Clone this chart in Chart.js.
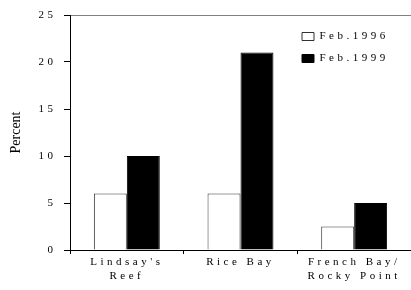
<!DOCTYPE html>
<html>
<head>
<meta charset="utf-8">
<script src="https://cdn.jsdelivr.net/npm/chart.js@4"></script>
<style>
  html, body { margin: 0; padding: 0; background: #fff; overflow: hidden; }
  canvas { display: block; }
</style>
</head>
<body>
<canvas id="chart" width="411" height="290"></canvas>
<script>
// Data
const categories = [["Lindsay's", "Reef"], ["Rice Bay"], ["French Bay/", "Rocky Point"]];
const seriesNames = ["Feb.1996", "Feb.1999"];
const feb1996 = [6, 6, 2.5];
const feb1999 = [10, 21, 5];
const yMin = 0;
const yMax = 25;
const yStep = 5;

const serif = "'Liberation Serif', 'DejaVu Serif', serif";
Chart.defaults.color = "#000";
Chart.defaults.font.family = serif;

// spaced-out lettering like the original, but not on the axis title
const spacingPlugin = {
    id: "spacing",
    afterLayout(chart) {
        const y = chart.scales.y;
        if (y && !y._plainTitle) {
            const orig = y.drawTitle;
            y.drawTitle = function () {
                const ctx = this.ctx;
                const prev = ctx.letterSpacing;
                ctx.letterSpacing = "0px";
                orig.call(this);
                ctx.letterSpacing = prev;
            };
            y._plainTitle = true;
        }
        // put the legend inside the plot, top right
        const lg = chart.legend;
        if (lg) {
            lg.left = 291;
            lg.top = 20;
            lg.right = lg.left + 120;
            lg.bottom = lg.top + 200;
        }
    },
    beforeDraw(chart) {
        chart.ctx.letterSpacing = "3.5px";
    }
};

new Chart(document.getElementById("chart"), {
    type: "bar",
    data: {
        labels: categories,
        datasets: [
            {
                label: seriesNames[0],
                data: feb1996,
                backgroundColor: "#fff",
                borderColor: "#333",
                borderWidth: 1
            },
            {
                label: seriesNames[1],
                data: feb1999,
                backgroundColor: "#000",
                borderColor: "#000",
                borderWidth: 1
            }
        ]
    },
    options: {
        responsive: false,
        animation: false,
        categoryPercentage: 0.58,
        barPercentage: 1,
        layout: { padding: { top: 15, left: 0, right: 0, bottom: 0 } },
        plugins: {
            legend: {
                position: "chartArea",
                align: "start",
                labels: {
                    boxWidth: 12,
                    boxHeight: 8,
                    padding: 11,
                    font: { family: serif, size: 11 },
                    color: "#000"
                }
            },
            tooltip: { enabled: false }
        },
        scales: {
            x: {
                afterFit(scale) { scale.height = 40; },
                grid: {
                    display: true,
                    drawOnChartArea: false,
                    offset: true,
                    color: "#000",
                    tickLength: 4
                },
                border: { color: "#000", width: 1 },
                ticks: {
                    padding: 2,
                    font: { family: serif, size: 11, lineHeight: 1.2 },
                    color: "#000"
                }
            },
            y: {
                min: yMin,
                max: yMax,
                afterFit(scale) { scale.width = 70; },
                grid: {
                    color: (c) => (c.tick && c.tick.value === yMax ? "#808080" : "rgba(0,0,0,0)"),
                    tickColor: "#000",
                    tickLength: 6
                },
                border: { color: "#000", width: 1 },
                ticks: {
                    stepSize: yStep,
                    padding: 7.5,
                    font: { family: serif, size: 11 },
                    color: "#000"
                },
                title: {
                    display: true,
                    text: "Percent",
                    font: { family: serif, size: 14 },
                    color: "#000",
                    padding: { top: 8, bottom: 0 }
                }
            }
        }
    },
    plugins: [spacingPlugin]
});
</script>
</body>
</html>
